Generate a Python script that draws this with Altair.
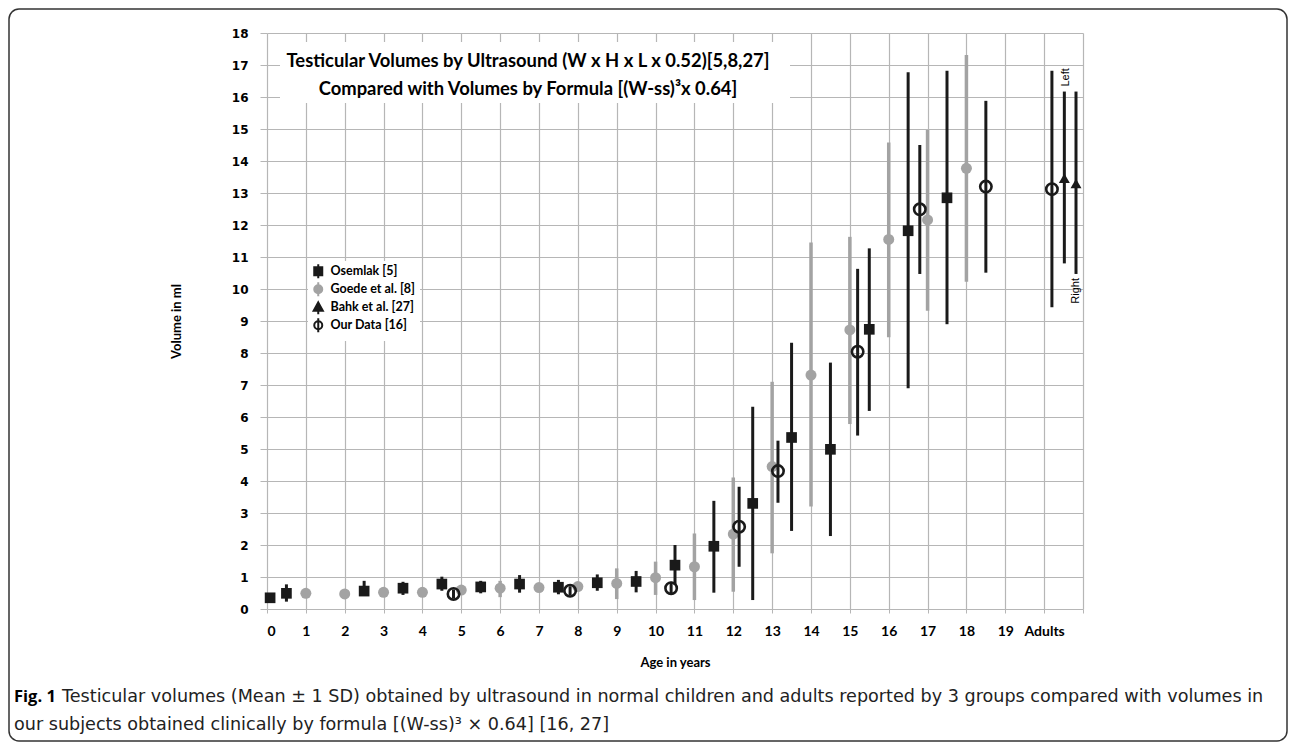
import altair as alt
import pandas as pd

# ---------------- data ----------------
series_names = ["Osemlak [5]", "Goede et al. [8]", "Bahk et al. [27]", "Our Data [16]"]

osemlak_age = [0.08, 0.5, 2.5, 3.5, 4.5, 5.5, 6.5, 7.5, 8.5, 9.5, 10.5, 11.5, 12.5, 13.5, 14.5, 15.5, 16.5, 17.5]
osemlak_mean = [0.35, 0.49, 0.56, 0.65, 0.78, 0.69, 0.78, 0.68, 0.82, 0.86, 1.37, 1.96, 3.30, 5.36, 4.99, 8.74, 11.82, 12.85]
osemlak_lo = [0.35, 0.23, 0.56, 0.44, 0.57, 0.49, 0.51, 0.46, 0.57, 0.52, 0.75, 0.51, 0.28, 2.44, 2.28, 6.19, 6.90, 8.90]
osemlak_hi = [0.35, 0.77, 0.88, 0.85, 1.01, 0.88, 1.06, 0.91, 1.08, 1.19, 2.00, 3.38, 6.32, 8.32, 7.70, 11.27, 16.77, 16.82]

goede_age = [1, 2, 3, 4, 5, 6, 7, 8, 9, 10, 11, 12, 13, 14, 15, 16, 17, 18]
goede_mean = [0.49, 0.47, 0.52, 0.52, 0.59, 0.65, 0.67, 0.70, 0.80, 0.98, 1.32, 2.34, 4.45, 7.31, 8.72, 11.55, 12.16, 13.77]
goede_lo = [0.49, 0.47, 0.52, 0.52, 0.59, 0.37, 0.67, 0.57, 0.31, 0.44, 0.28, 0.54, 1.74, 3.20, 5.78, 8.49, 9.32, 10.23]
goede_hi = [0.49, 0.47, 0.52, 0.52, 0.59, 0.88, 0.67, 0.84, 1.27, 1.48, 2.36, 4.11, 7.10, 11.45, 11.63, 14.58, 14.97, 17.31]

bahk_age = [20.52, 20.82]
bahk_side = ["Left", "Right"]
bahk_mean = [13.46, 13.30]
bahk_lo = [10.80, 10.47]
bahk_hi = [16.17, 16.17]

ours_age = [4.8, 7.8, 10.4, 12.15, 13.15, 15.2, 16.8, 18.5, 20.2]
ours_mean = [0.47, 0.57, 0.65, 2.57, 4.31, 8.04, 12.49, 13.20, 13.12]
ours_lo = [0.33, 0.43, 0.45, 1.32, 3.32, 5.42, 10.47, 10.51, 9.43]
ours_hi = [0.61, 0.71, 0.85, 3.82, 5.26, 10.63, 14.50, 15.88, 16.82]

x_ticks = list(range(0, 22))
y_ticks = list(range(0, 19))

title_lines = ["Testicular Volumes by Ultrasound (W x H x L x 0.52)[5,8,27]",
               "Compared with Volumes by Formula [(W-ss)\u00b3x 0.64]"]
caption_bold = "Fig. 1"
caption_lines = ["Testicular volumes (Mean \u00b1 1 SD) obtained by ultrasound in normal children and adults reported by 3 groups compared with volumes in",
                 "our subjects obtained clinically by formula [(W-ss)\u00b3 \u00d7 0.64] [16, 27]"]

# ---------------- styling ----------------
BLACK = "#1a1a1a"
GRAY = "#a3a3a3"
GRID = "#b6b6b6"
W, H = 816, 576


def frame(age, mean, lo, hi):
    return pd.DataFrame({"age": age, "mean": mean, "lo": lo, "hi": hi})


df_os = frame(osemlak_age, osemlak_mean, osemlak_lo, osemlak_hi)
df_go = frame(goede_age, goede_mean, goede_lo, goede_hi)
df_ba = frame(bahk_age, bahk_mean, bahk_lo, bahk_hi)
df_ba["side"] = bahk_side
df_ou = frame(ours_age, ours_mean, ours_lo, ours_hi)

xscale = alt.Scale(domain=[0, 21], nice=False, zero=False)
yscale = alt.Scale(domain=[0, 18], nice=False)

x_axis = alt.Axis(values=x_ticks, title="Age in years", labelOverlap=False,
                  labelExpr="datum.value == 20 ? 'Adults' : (datum.value == 21 ? '' : datum.label)",
                  labelFont="Lato", labelFontWeight="bold", labelFontSize=14, labelColor="black",
                  labelPadding=11, tickSize=4, tickColor=GRID, domain=False,
                  grid=True, gridColor=GRID, gridWidth=1.2,
                  titleFont="Lato", titleFontWeight="bold", titleFontSize=13, titleColor="black",
                  titlePadding=18)
y_axis = alt.Axis(values=y_ticks, title="Volume in ml", labelOverlap=False,
                  labelFont="DejaVu Sans", labelFontWeight="bold", labelFontSize=12, labelColor="black",
                  labelPadding=12, tickSize=7, tickColor=GRID, domain=False,
                  grid=True, gridColor=GRID, gridWidth=1.2,
                  titleFont="Lato", titleFontWeight="bold", titleFontSize=13, titleColor="black",
                  titlePadding=48)

X = alt.X("age:Q", scale=xscale, axis=x_axis)
Y = alt.Y("mean:Q", scale=yscale, axis=y_axis)
Ylo = alt.Y("lo:Q", scale=yscale, axis=y_axis)
Yhi = alt.Y("hi:Q", scale=yscale, axis=y_axis)


def series_layers(df, color, shape, size, filled=True, rule_w=3.0):
    rules = alt.Chart(df).mark_rule(color=color, strokeWidth=rule_w).encode(x=X, y=Ylo, y2="hi:Q")
    if filled:
        pts = alt.Chart(df).mark_point(filled=True, shape=shape, size=size, color=color, opacity=1)
    else:
        pts = alt.Chart(df).mark_point(filled=False, shape=shape, size=size, color=color,
                                       strokeWidth=2.6, opacity=1, fill="transparent")
    pts = pts.encode(x=X, y=Y)
    return [rules, pts]


one = pd.DataFrame({"k": [0]})

# white box behind the in-plot title
title_box = alt.Chart(one).mark_rect(color="white").encode(
    x=alt.value(13), x2=alt.value(523), y=alt.value(9), y2=alt.value(70))

title_txt = [
    alt.Chart(pd.DataFrame({"t": [line]})).mark_text(
        font="Lato", fontWeight="bold", fontSize=18.4, color="black", align="center", baseline="middle"
    ).encode(text="t:N", x=alt.value(261), y=alt.value(yy))
    for line, yy in zip(title_lines, [28, 56])
]

# Left / Right labels attached to Bahk bars
left_lbl = alt.Chart(df_ba).transform_filter("datum.side == 'Left'").mark_text(
    angle=270, align="left", baseline="middle", dx=5, dy=2, font="Liberation Sans", fontSize=11, color="black"
).encode(x=X, y=Yhi, text="side:N")
right_lbl = alt.Chart(df_ba).transform_filter("datum.side == 'Right'").mark_text(
    angle=270, align="right", baseline="middle", dx=-4, dy=0, font="Liberation Sans", fontSize=11, color="black"
).encode(x=X, y=Ylo, text="side:N")

# caption below the chart
cap_bold = alt.Chart(pd.DataFrame({"t": [caption_bold]})).mark_text(
    font="Open Sans", fontWeight="bold", fontSize=16.5, color="black", align="left", baseline="middle"
).encode(text="t:N", x=alt.value(-253), y=alt.value(664))
cap_txt = [
    alt.Chart(pd.DataFrame({"t": [line]})).mark_text(
        font="DejaVu Sans", fontSize=17.6, color="#222222", align="left", baseline="middle"
    ).encode(text="t:N", x=alt.value(xx), y=alt.value(yy))
    for line, xx, yy in zip(caption_lines, [-205, -253], [664, 692])
]

# rounded frame around the figure
border = alt.Chart(one).mark_rect(filled=False, stroke="#333333", strokeWidth=1.5, cornerRadius=10).encode(
    x=alt.value(-258), x2=alt.value(1020), y=alt.value(-24), y2=alt.value(708))

# legend-only layer (no marks drawn; legend comes from explicit scale domains)
sym_square = "M-1,-1H1V1H-1Z M0,-1.75V1.75"
sym_circle = "M-1,0A1,1,0,1,1,1,0A1,1,0,1,1,-1,0Z M0,-1.75V1.75"
sym_tri = "M0,-1.2L1.15,0.9H-1.15Z M0,0.9V1.75"
leg = alt.Legend(orient="none", legendX=41, legendY=228, title=None, fillColor="white",
                 padding=4, symbolSize=64, symbolStrokeWidth=2, rowPadding=-5, labelOffset=6,
                 labelFont="Lato", labelFontWeight="bold", labelFontSize=12.5, labelColor="black")
legend_layer = alt.Chart(pd.DataFrame({"series": series_names})).transform_filter("false").mark_point(
    filled=True, opacity=1).encode(
    shape=alt.Shape("series:N", scale=alt.Scale(domain=series_names,
                                                range=[sym_square, sym_circle, sym_tri, sym_circle]), legend=leg),
    fill=alt.Fill("series:N", scale=alt.Scale(domain=series_names,
                                              range=[BLACK, GRAY, BLACK, "transparent"]), legend=leg),
    stroke=alt.Stroke("series:N", scale=alt.Scale(domain=series_names,
                                                  range=[BLACK, GRAY, BLACK, BLACK]), legend=leg),
)

layers = [title_box]
layers += series_layers(df_go, GRAY, "circle", 121, rule_w=3.5)
layers += series_layers(df_os, BLACK, "square", 114)
layers += series_layers(df_ba, BLACK, "triangle-up", 120)
layers += series_layers(df_ou, BLACK, "circle", 130, filled=False)
layers += [left_lbl, right_lbl] + title_txt + [cap_bold] + cap_txt + [border, legend_layer]

chart = alt.layer(*layers).properties(width=W, height=H, padding=0).configure_view(stroke=None)

chart.save("out.html", embed_options={"renderer": "svg", "actions": False})
